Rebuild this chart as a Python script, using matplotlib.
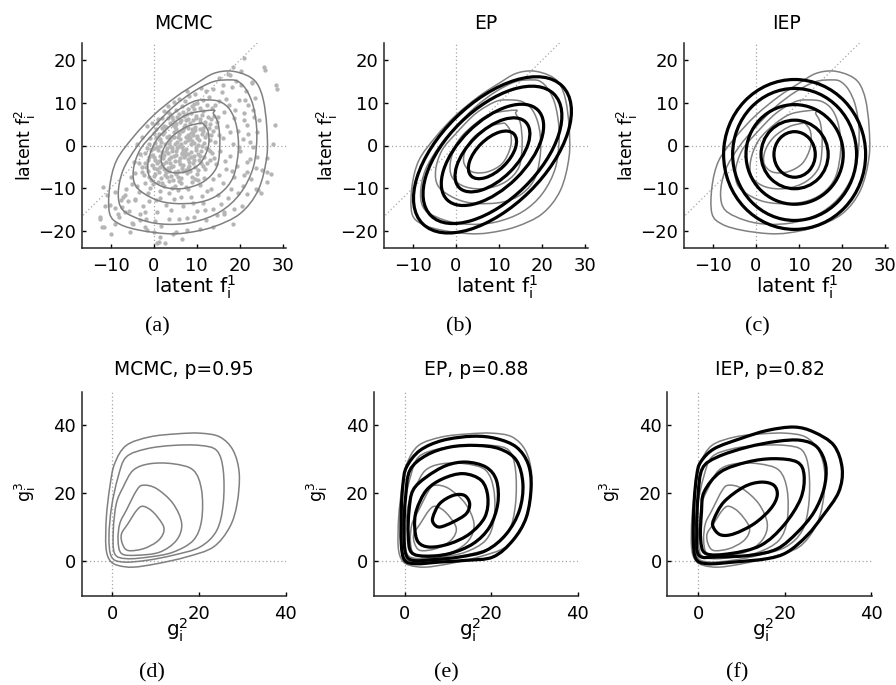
import numpy as np
import matplotlib.pyplot as plt
from matplotlib.patches import Ellipse, PathPatch
from matplotlib.path import Path

plt.rcParams['font.family'] = 'DejaVu Sans'
plt.rcParams['mathtext.default'] = 'regular'

# ---- data ----
# MCMC samples of the latent pair (f1, f2), panel (a)
mcmc_samples = [
    # core
    (6.5, 9.2), (8.1, 8.6), (9.4, 9.8), (10.8, 8.9), (12.3, 9.5), (7.2, 10.4), (11.5, 10.7), (5.1, 8.3), (13.6, 8.8),
    (4.2, 6.6), (5.8, 7.4), (7.0, 6.9), (8.7, 7.6), (9.9, 6.4), (11.2, 7.2), (12.6, 6.8), (3.3, 7.9), (14.1, 7.0), (6.4, 6.1),
    (2.5, 4.6), (3.8, 5.3), (5.0, 4.4), (6.1, 5.6), (7.3, 4.8), (8.5, 5.2), (9.6, 4.3), (10.7, 5.5), (11.9, 4.7), (13.2, 5.1),
    (4.4, 5.9), (8.0, 4.1), (14.5, 4.4),
    (1.2, 2.8), (2.4, 3.5), (3.6, 2.3), (4.7, 3.1), (5.9, 2.6), (6.8, 3.7), (7.9, 2.4), (9.1, 3.2), (10.2, 2.2), (11.4, 3.5),
    (12.5, 2.7), (13.8, 3.3), (0.5, 3.9), (5.3, 3.8), (8.6, 2.9), (15.2, 2.5),
    (0.3, 0.7), (1.5, 1.6), (2.7, 0.4), (3.9, 1.2), (4.9, 0.3), (6.1, 1.5), (7.2, 0.8), (8.4, 1.7), (9.5, 0.5), (10.6, 1.3),
    (11.8, 0.6), (13.0, 1.4), (14.3, 0.9), (-0.8, 1.8), (5.6, 1.9), (9.0, 1.1),
    (-0.5, -1.1), (0.9, -0.4), (2.0, -1.6), (3.2, -0.7), (4.3, -1.4), (5.4, -0.5), (6.5, -1.7), (7.6, -0.9), (8.8, -1.5),
    (9.9, -0.3), (11.0, -1.2), (12.2, -0.6), (13.5, -1.8), (1.6, -0.1), (6.0, -0.2), (10.4, -1.9),
    (-1.2, -3.4), (0.1, -2.6), (1.3, -3.7), (2.5, -2.3), (3.6, -3.1), (4.8, -2.5), (5.9, -3.6), (7.0, -2.8), (8.2, -3.9),
    (9.3, -2.4), (10.5, -3.3), (11.7, -2.7), (13.0, -3.5), (3.0, -3.9), (6.6, -2.1),
    (-1.8, -5.1), (-0.4, -4.6), (0.8, -5.6), (2.1, -4.3), (3.3, -5.4), (4.4, -4.8), (5.6, -5.9), (6.9, -4.5), (8.0, -5.3),
    (9.2, -4.2), (10.3, -5.7), (11.6, -4.9), (1.5, -5.0), (7.5, -5.8),
    (-1.0, -7.4), (0.4, -6.6), (1.7, -7.7), (2.9, -6.3), (4.1, -7.2), (5.3, -6.7), (6.4, -7.6), (7.7, -6.5), (8.9, -7.3),
    (10.1, -6.8), (-2.3, -6.9), (11.8, -7.6),
    (-0.2, -9.1), (1.1, -8.6), (2.4, -9.6), (3.7, -8.3), (5.0, -9.4), (6.3, -8.8), (7.6, -9.8), (9.0, -8.5), (-1.9, -8.8),
    (10.7, -9.3),
    (1.8, 0.9), (3.1, 2.0), (4.2, -0.6), (5.5, 0.8), (6.7, -0.4), (7.9, 1.2), (9.2, 2.4), (10.3, 0.2), (2.2, -2.9),
    (3.4, -1.8), (5.1, -2.2), (6.2, -3.0), (7.4, -1.5), (8.6, -2.6), (9.8, -1.1), (0.4, -3.3), (1.9, -4.6), (4.0, -5.1),
    (6.1, -4.4), (8.3, -4.7), (2.6, -7.0), (4.6, -8.1), (6.8, -6.1), (3.0, 4.3), (5.2, 5.0), (7.5, 5.9), (9.8, 7.0),
    (10.9, 3.9), (12.0, 1.9), (6.6, 3.3), (4.5, 2.1), (8.8, 0.3), (11.2, -0.2), (12.9, 4.2), (1.0, -1.0), (-0.3, -2.2),
    (0.2, -5.2), (3.5, -6.0), (5.7, -7.4), (7.2, -2.3), (8.1, 6.3), (9.5, 8.5), (11.6, 8.1), (13.3, 6.2), (0.9, 5.2),
    (2.0, 6.4), (3.9, 7.4), (-1.5, -0.5), (-2.0, -4.0), (-0.7, -8.0),
    (0.6, 1.9), (2.3, 2.6), (3.5, 0.6), (4.8, 1.9), (6.3, 0.4), (7.6, 2.1), (8.9, 3.9), (10.0, 1.7), (11.3, 2.6), (12.6, -0.9),
    (1.4, -2.4), (2.8, -1.2), (4.0, -2.8), (5.2, -1.3), (6.9, -1.1), (8.0, -2.0), (9.4, -3.3), (10.8, -2.5), (12.4, -4.2),
    (0.0, -0.6), (-1.0, -2.8), (0.7, -4.0), (2.4, -5.6), (3.8, -4.2), (5.0, -3.6), (6.6, -5.2), (7.9, -3.2), (9.6, -5.0),
    (11.0, -4.0), (1.2, -6.3), (3.1, -7.5), (4.9, -6.3), (6.0, -8.3), (8.4, -6.1), (9.7, -7.8), (2.0, -8.9), (4.3, -9.9),
    (0.0, -7.2), (-1.4, -6.0), (3.9, 0.0), (5.8, 3.1), (7.1, 4.3), (8.3, 2.0), (9.7, 3.6), (10.9, 6.3), (12.0, 5.6),
    (6.9, 7.9), (8.9, 9.3), (10.2, 9.9), (4.5, 4.9), (3.4, 6.5), (5.4, 6.6), (7.8, 7.3), (9.2, 5.9), (11.5, 4.1),
    (13.4, 2.4), (14.7, 5.6), (13.1, -1.2), (14.0, -2.9), (12.0, -5.6), (1.9, 4.2), (0.1, 2.9), (-1.1, 0.4), (-2.0, -1.7),
    (-2.6, -5.1), (-0.8, -9.9), (1.6, -10.6), (5.6, -10.4), (8.0, -10.2), (10.3, -8.1),
    # middle ring
    (15.3, 15.8), (17.2, 16.9), (19.1, 15.2), (20.4, 17.6), (13.8, 13.2), (16.0, 12.5), (18.3, 13.8), (21.5, 12.9),
    (22.8, 14.9), (15.2, 10.4), (17.5, 9.6), (19.8, 10.8), (22.0, 9.5), (23.6, 11.2), (16.4, 7.8), (18.7, 6.5),
    (20.9, 7.7), (23.4, 6.8), (17.0, 4.6), (19.6, 3.5), (21.8, 4.9), (24.1, 3.2), (16.2, 1.8), (18.5, 0.4), (20.7, 1.6),
    (23.0, -0.4), (9.7, 12.1), (11.0, 13.5), (8.2, 11.6), (12.8, 11.3), (6.0, 10.9), (4.7, 10.2),
    (15.5, -1.2), (17.8, -2.5), (20.1, -1.4), (22.4, -3.1), (14.6, -4.3), (16.9, -5.6), (19.3, -4.7), (21.6, -6.2),
    (23.9, -5.4), (13.7, -7.9), (16.1, -8.8), (18.6, -7.5), (20.8, -9.4), (12.4, -10.7), (14.9, -11.6), (17.3, -12.3),
    (19.6, -11.2), (11.5, -13.6), (13.9, -14.8), (16.4, -15.5), (8.7, -12.2), (10.2, -15.4), (6.9, -14.1), (4.8, -12.6),
    (2.9, -13.9), (7.8, -17.0), (12.1, -17.6),
    (-3.1, -1.9), (-4.6, -3.8), (-2.7, -6.2), (-5.3, -7.4), (-3.9, -9.6), (-6.5, -10.3), (-1.4, -11.1), (-4.2, -12.5),
    (-7.6, -12.9), (0.5, -12.8), (-2.5, -14.1), (-5.8, -15.3), (-8.9, -14.6), (0.9, -15.6), (-1.8, -17.2), (3.5, -17.3),
    (-4.9, -18.1), (1.7, -19.0), (5.1, -20.3), (-2.8, 2.0), (-1.5, 4.6), (1.0, 6.2), (2.4, 8.1),
    (14.3, 9.6), (16.8, 11.0), (18.9, 8.3), (21.1, 6.1), (14.9, 6.8), (17.7, 3.1), (19.9, -0.3), (16.6, -3.6), (18.2, -5.9),
    (15.2, -7.0), (13.4, -10.1), (11.2, -11.8), (9.1, -13.6), (6.3, -12.2), (3.7, -11.2), (1.6, -12.4), (-1.0, -13.1),
    (-3.5, -11.0), (-5.0, -9.0), (-4.2, -6.5), (-3.3, -4.2), (-6.0, -13.1), (-2.1, -15.6), (0.4, -17.8), (4.1, -15.2),
    (6.0, -17.3), (9.4, -16.9), (11.9, -15.1), (15.6, -13.7), (18.0, -10.2), (21.0, -7.0), (22.5, 0.9), (24.6, 6.1),
    (20.2, 14.3), (16.1, 14.2), (12.2, 12.8), (7.7, 12.9), (3.4, 9.3), (-0.4, 5.4), (-3.8, 0.3),
    # outliers
    (25.7, 18.5), (26.0, 17.7), (28.4, 14.2), (28.6, 13.2), (28.3, 4.8), (27.7, 0.3), (26.3, -6.2), (27.2, -6.6),
    (24.3, -10.4), (24.9, -11.1), (18.5, -18.5), (22.8, 14.6), (20.9, 20.5), (18.5, 18.5), (17.8, 16.5), (22.0, 2.8),
    (24.0, -2.7), (23.2, 8.3), (21.3, 10.7), (-11.7, -9.7), (-11.9, -19.1), (-9.8, -20.7), (-12.5, -16.8), (-10.2, -14.0),
    (-8.2, -16.0), (-7.1, -12.1), (-4.7, -18.4), (-3.2, -16.0), (-1.6, -19.9), (0.7, -23.0), (1.5, -21.5), (2.6, -23.0),
    (4.6, -20.7), (6.5, -21.9), (7.7, -19.9), (10.8, -19.5), (13.9, -19.1),
    (26.3, -2.9), (25.3, -5.8), (26.3, -8.6), (23.7, -10.1), (21.8, -11.3), (20.6, -14.1), (18.7, -14.8), (16.4, -16.0),
    (14.8, -16.4), (22.6, -7.8), (21.8, -3.9), (-11.2, -14.1), (-12.4, -17.2), (-11.6, -19.1), (-8.9, -18.4),
    (-5.4, -20.3), (-8.1, -16.8), (-6.6, -15.6), (-3.1, -17.6), (-1.9, -19.2), (1.2, -22.7), (0.0, -20.3),
    (-10.9, -11.7), (-8.9, -10.9), (-6.6, -11.7), (-7.4, -14.4), (-4.3, -12.9),
]

# MCMC density contours in latent space (inner -> outer)
mcmc_f_c1 = [(10.8, 5.2), (7.7, 4.4), (4.2, 2.0), (2.2, -1.1), (1.9, -4.2), (3.8, -6.2), (7.3, -6.2), (10.8, -4.2),
             (12.7, -0.3), (12.7, 3.2), (11.6, 5.0)]
mcmc_f_c2 = [(13.9, 8.3), (8.4, 7.5), (4.6, 5.2), (0.7, 1.3), (-1.2, -3.5), (-0.9, -7.4), (2.2, -9.7), (6.9, -10.1),
             (11.6, -8.5), (14.7, -5.0), (15.4, 0.5), (15.0, 5.2), (13.9, 7.5)]
mcmc_f_c3 = [(12.3, 10.7), (9.2, 10.3), (4.6, 7.5), (0.0, 2.8), (-3.2, -1.1), (-4.7, -5.8), (-4.0, -9.7), (0.0, -12.5),
             (4.6, -13.6), (10.8, -13.3), (15.4, -11.3), (18.5, -7.4), (19.7, -1.1), (19.3, 4.4), (17.8, 8.3), (15.4, 10.3)]
mcmc_f_c4 = [(17.8, 15.4), (13.9, 15.0), (9.2, 12.6), (4.6, 9.1), (0.0, 4.4), (-3.9, -0.3), (-7.1, -5.8), (-8.2, -11.3),
             (-7.1, -15.2), (-2.4, -17.6), (3.0, -18.5), (9.2, -18.0), (15.4, -15.6), (20.1, -11.3), (23.2, -5.0),
             (24.0, 2.8), (23.2, 9.1), (21.6, 13.0), (19.7, 15.0)]
mcmc_f_c5 = [(17.8, 17.5), (13.9, 16.9), (10.0, 14.6), (5.3, 11.5), (0.0, 7.1), (-4.7, 2.0), (-8.6, -3.5), (-10.2, -9.7),
             (-10.2, -16.0), (-7.8, -18.5), (-3.2, -19.9), (3.0, -20.7), (7.7, -20.5), (13.9, -19.1), (20.1, -16.0),
             (24.3, -10.5), (26.3, -2.7), (26.3, 4.4), (25.5, 10.7), (24.0, 14.6), (21.6, 16.5)]
mcmc_f_contours = [mcmc_f_c1, mcmc_f_c2, mcmc_f_c3, mcmc_f_c4, mcmc_f_c5]

# EP Gaussian in latent space: ellipse centre, tilt and semi-axes per level
ep_f_center = (8.5, -2.2)
ep_f_angle = 45
ep_f_semi_major = [7.0, 10.9, 14.9, 20.2, 22.9]
ep_f_semi_minor = [3.7, 5.7, 7.8, 10.6, 12.2]

# IEP Gaussian in latent space (independent f1, f2)
iep_f_center = (9.0, -2.1)
iep_f_rx = [4.8, 7.8, 11.3, 14.4, 16.5]
iep_f_ry = [5.35, 8.05, 11.7, 15.5, 17.6]

# MCMC density contours in g space (inner -> outer)
mcmc_g_c1 = [(3.6, 11.1), (5.6, 15.0), (7.1, 16.2), (9.4, 14.5), (11.7, 10.6), (11.7, 8.1), (10.2, 5.7), (7.1, 3.7),
             (3.6, 3.2), (2.3, 5.2), (2.1, 8.1)]
mcmc_g_c2 = [(3.2, 15.0), (5.6, 20.9), (7.1, 22.4), (10.2, 21.4), (14.0, 17.0), (16.0, 11.1), (14.8, 6.2), (10.9, 2.7),
             (5.6, 1.8), (2.1, 2.3), (1.3, 6.2), (1.7, 11.1)]
mcmc_g_c3 = [(2.5, 21.9), (4.8, 26.8), (8.6, 28.7), (14.0, 28.7), (18.7, 26.8), (20.6, 20.9), (20.6, 12.1), (18.7, 6.2),
             (14.0, 2.7), (8.6, 1.3), (3.2, 0.8), (0.5, 2.3), (0.2, 9.1), (0.9, 17.0)]
mcmc_g_c4 = [(1.3, 24.8), (3.2, 30.7), (7.9, 33.1), (14.0, 34.1), (20.2, 34.1), (24.1, 32.6), (25.6, 26.8), (25.6, 17.0),
             (24.1, 9.1), (20.2, 4.2), (14.0, 1.8), (7.9, 0.3), (2.5, -0.2), (-0.2, 1.3), (-0.8, 7.2), (-0.2, 16.0)]
mcmc_g_c5 = [(0.5, 28.7), (3.2, 34.1), (8.6, 36.6), (14.8, 37.5), (20.2, 37.7), (24.8, 36.6), (27.9, 32.6), (29.3, 25.8),
             (28.8, 17.0), (27.1, 10.1), (23.3, 4.2), (17.1, 1.3), (10.2, -0.7), (4.8, -1.7), (1.3, -1.2), (-0.6, 0.3),
             (-1.5, 4.2), (-1.4, 13.0), (-0.6, 21.9)]
mcmc_g_contours = [mcmc_g_c1, mcmc_g_c2, mcmc_g_c3, mcmc_g_c4, mcmc_g_c5]

# EP approximation mapped to g space
ep_g_c1 = [(6.5, 13.0), (8.1, 17.0), (11.2, 19.4), (13.8, 19.4), (15.0, 17.0), (14.2, 14.0), (11.2, 11.6), (8.1, 10.1),
           (6.7, 11.1)]
ep_g_c2 = [(2.3, 10.1), (2.7, 15.0), (5.0, 20.9), (8.8, 24.3), (13.5, 25.8), (17.7, 23.8), (19.2, 18.9), (18.5, 13.0),
           (15.0, 8.1), (10.4, 5.2), (5.8, 4.2), (3.1, 5.7)]
ep_g_c3 = [(1.9, 20.9), (5.0, 24.8), (9.6, 28.2), (14.2, 29.2), (18.8, 27.7), (21.2, 23.8), (21.5, 17.0), (19.6, 10.1),
           (15.8, 5.2), (10.4, 2.3), (5.0, 1.5), (1.5, 2.7), (0.8, 8.1), (1.0, 15.0)]
ep_g_c4 = [(1.2, 26.8), (5.0, 31.2), (10.4, 33.6), (16.5, 34.1), (21.9, 33.1), (25.8, 29.7), (27.3, 22.8), (26.5, 15.0),
           (23.5, 8.1), (18.8, 3.2), (12.7, 1.3), (6.5, 0.5), (1.9, 0.3), (0.2, 2.3), (-0.2, 9.1), (0.2, 18.9)]
ep_g_c5 = [(0.4, 27.7), (3.5, 32.6), (8.8, 35.6), (15.8, 36.8), (21.2, 36.1), (25.8, 33.6), (28.5, 28.7), (29.2, 21.9),
           (28.1, 13.0), (25.0, 6.2), (20.4, 1.3), (14.2, 0.3), (8.1, -0.2), (2.7, -0.7), (0.0, 0.3), (-0.8, 5.2),
           (-0.8, 15.0), (-0.4, 22.8)]
ep_g_contours = [ep_g_c1, ep_g_c2, ep_g_c3, ep_g_c4, ep_g_c5]

# IEP approximation mapped to g space
iep_g_c1 = [(3.7, 12.5), (6.0, 17.5), (10.6, 21.9), (14.5, 23.3), (17.5, 22.4), (18.3, 19.4), (16.8, 15.5), (13.0, 11.1),
            (8.3, 8.1), (5.2, 7.8), (3.5, 10.1)]
iep_g_c2 = [(1.4, 20.4), (5.2, 26.3), (11.4, 29.2), (17.5, 30.2), (22.9, 29.2), (24.5, 25.3), (23.7, 18.4), (19.8, 10.6),
            (14.5, 4.7), (7.5, 2.3), (1.8, 2.3), (0.6, 6.7), (0.8, 14.5)]
iep_g_c3 = [(1.0, 27.3), (4.5, 30.7), (11.4, 33.6), (18.3, 35.3), (23.7, 35.6), (27.5, 33.6), (29.5, 28.2), (29.1, 21.4),
            (26.8, 14.5), (23.0, 8.6), (18.3, 3.7), (12.2, 1.8), (4.5, 1.3), (0.2, 1.8), (-0.3, 8.6), (0.0, 19.4)]
iep_g_c4 = [(0.6, 29.2), (3.7, 33.1), (9.8, 36.1), (16.0, 38.5), (22.2, 39.5), (26.8, 38.0), (31.4, 34.1), (33.3, 27.3),
            (32.5, 20.4), (28.9, 13.5), (25.2, 7.6), (20.6, 2.7), (16.0, 0.8), (8.3, -0.2), (2.2, -0.7), (-0.5, 0.8),
            (-1.1, 6.7), (-0.9, 17.5), (-0.3, 25.3)]
iep_g_contours = [iep_g_c1, iep_g_c2, iep_g_c3, iep_g_c4]

top_titles = ['MCMC', 'EP', 'IEP']
bottom_titles = ['MCMC, p=0.95', 'EP, p=0.88', 'IEP, p=0.82']
captions_top = ['(a)', '(b)', '(c)']
captions_bottom = ['(d)', '(e)', '(f)']

f_xticks = [-10, 0, 10, 20, 30]
f_yticks = [-20, -10, 0, 10, 20]
g_xticks = [0, 20, 40]
g_yticks = [0, 20, 40]

GRAY = '#808080'
DOT = '#a6a6a6'


def smooth_closed(ax, pts, **kw):
    """Closed smooth curve through the read-off vertices (cubic Bezier segments)."""
    P = np.array(pts, float)
    n = len(P)
    verts = [P[0]]
    codes = [Path.MOVETO]
    for k in range(n):
        p0, p1, p2, p3 = P[k - 1], P[k], P[(k + 1) % n], P[(k + 2) % n]
        verts += [p1 + (p2 - p0) / 6, p2 - (p3 - p1) / 6, p2]
        codes += [Path.CURVE4] * 3
    ax.add_patch(PathPatch(Path(verts, codes), fill=False, joinstyle='round', **kw))


def style_axes(ax, xlim, ylim, xticks, yticks, title, pad):
    ax.set_xlim(*xlim)
    ax.set_ylim(*ylim)
    ax.set_xticks(xticks)
    ax.set_yticks(yticks)
    for s in ['top', 'right']:
        ax.spines[s].set_visible(False)
    for s in ['left', 'bottom']:
        ax.spines[s].set_linewidth(1.1)
        ax.spines[s].set_color('#262626')
    ax.tick_params(direction='in', length=3, width=1, labelsize=13)
    ax.tick_params(axis='x', pad=6.5)
    ax.tick_params(axis='y', pad=4)
    ax.set_title(title, fontsize=13.5, pad=pad)
    ax.axvline(0, color=DOT, lw=0.9, ls=(0, (1, 2)), zorder=0)
    ax.axhline(0, color=DOT, lw=0.9, ls=(0, (1, 2)), zorder=0)


fig = plt.figure(figsize=(8.96, 6.85), dpi=100)

top_lefts = [81.7, 384, 684]
bottom_lefts = [81.7, 374, 667.3]
W = 896.0
H = 685.0

sx = [p[0] for p in mcmc_samples]
sy = [p[1] for p in mcmc_samples]

for i in range(3):
    ax = fig.add_axes([top_lefts[i] / W, 1 - 247.7 / H, 204 / W, 204.4 / H])
    style_axes(ax, (-16.7, 30.7), (-24, 24), f_xticks, f_yticks, top_titles[i], 10)
    ax.plot([-30, 40], [-30, 40], color=DOT, lw=0.9, ls=(0, (1, 2)), zorder=0)
    if i == 0:
        ax.plot(sx, sy, 'o', ms=3.1, mec='none', color='#b5b5b5', zorder=1)
    for c in mcmc_f_contours:
        smooth_closed(ax, c, edgecolor=GRAY, lw=1.1, zorder=2)
    if i == 1:
        for a, b in zip(ep_f_semi_major, ep_f_semi_minor):
            ax.add_patch(Ellipse(ep_f_center, 2 * a, 2 * b, angle=ep_f_angle,
                                 fill=False, ec='black', lw=2.3, zorder=3))
    if i == 2:
        for a, b in zip(iep_f_rx, iep_f_ry):
            ax.add_patch(Ellipse(iep_f_center, 2 * a, 2 * b, angle=0,
                                 fill=False, ec='black', lw=2.3, zorder=3))
    ax.set_xlabel('latent $f_i^1$', fontsize=14.5)
    ax.xaxis.set_label_coords(0.555, -0.125)
    ax.set_ylabel('latent $f_i^2$', fontsize=12.5)
    ax.yaxis.set_label_coords(-0.215, 0.5)
    fig.text([157, 459, 757][i] / W, 1 - 327 / H, captions_top[i],
             family='Liberation Serif', fontsize=16, ha='center', va='center')

for i in range(3):
    ax = fig.add_axes([bottom_lefts[i] / W, 1 - 595.7 / H, 204.3 / W, 204 / H])
    style_axes(ax, (-7.1, 40.1), (-10.1, 49.9), g_xticks, g_yticks, bottom_titles[i], 12)
    for c in mcmc_g_contours:
        smooth_closed(ax, c, edgecolor=GRAY, lw=1.1, zorder=2)
    if i == 1:
        for c in ep_g_contours:
            smooth_closed(ax, c, edgecolor='black', lw=2.3, zorder=3)
    if i == 2:
        for c in iep_g_contours:
            smooth_closed(ax, c, edgecolor='black', lw=2.3, zorder=3)
    ax.set_xlabel('$g_i^2$', fontsize=14.5)
    ax.xaxis.set_label_coords(0.47, -0.1)
    ax.set_ylabel('$g_i^3$', fontsize=12.5)
    ax.yaxis.set_label_coords(-0.215, 0.51)
    fig.text([152, 446, 737][i] / W, 1 - 673 / H, captions_bottom[i],
             family='Liberation Serif', fontsize=16, ha='center', va='center')

fig.savefig('out.png', dpi=100)
